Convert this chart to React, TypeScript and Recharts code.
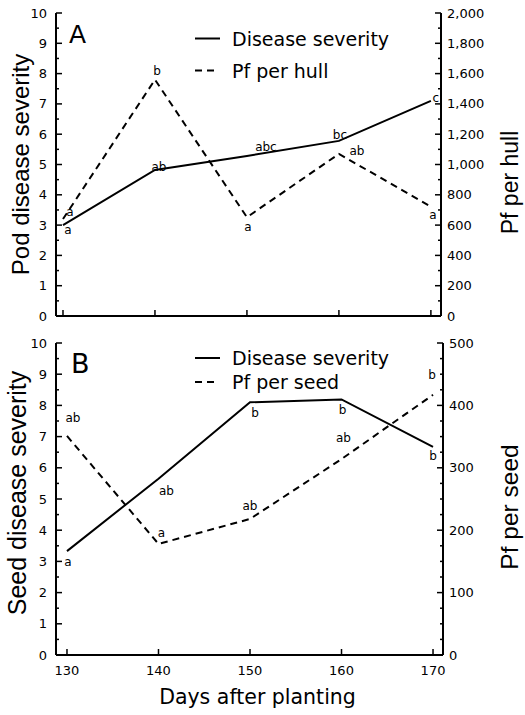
import { LineChart, Line, XAxis, YAxis, Legend, LabelList } from "recharts";

const days = [130, 140, 150, 160, 170];

// panel A
const podSeverity = [3.0, 4.82, 5.28, 5.78, 7.1];
const pfPerHull = [640, 1560, 652, 1070, 722];
const podSeverityLetters = ["a", "ab", "abc", "bc", "c"];
const pfHullLetters = ["a", "b", "a", "ab", "a"];

// panel B
const seedSeverity = [3.33, 5.65, 8.1, 8.19, 6.67];
const pfPerSeed = [351, 178, 218, 314, 417];
const seedSeverityLetters = ["a", "ab", "b", "b", "b"];
const pfSeedLetters = ["ab", "a", "ab", "ab", "b"];

const dayTicks = [130, 140, 150, 160, 170];
const severityTicks = [0, 0.5, 1, 1.5, 2, 2.5, 3, 3.5, 4, 4.5, 5, 5.5, 6, 6.5, 7, 7.5, 8, 8.5, 9, 9.5, 10];
const hullTicks = [0, 100, 200, 300, 400, 500, 600, 700, 800, 900, 1000, 1100, 1200, 1300, 1400, 1500, 1600, 1700, 1800, 1900, 2000];
const seedTicks = [0, 25, 50, 75, 100, 125, 150, 175, 200, 225, 250, 275, 300, 325, 350, 375, 400, 425, 450, 475, 500];

const topData = days.map((d, i) => ({
  day: d,
  severity: podSeverity[i],
  pf: pfPerHull[i],
  sevLetter: podSeverityLetters[i],
  pfLetter: pfHullLetters[i],
}));

const bottomData = days.map((d, i) => ({
  day: d,
  severity: seedSeverity[i],
  pf: pfPerSeed[i],
  sevLetter: seedSeverityLetters[i],
  pfLetter: pfSeedLetters[i],
}));

// where each significance letter sits relative to its point
const podSevOffsets = [[5, 5], [4, -3], [19, -9], [1, -6], [5, -3]];
const pfHullOffsets = [[7, -7], [2, -9], [1, 10], [18, -3], [2, 8]];
const seedSevOffsets = [[1, 11], [8, 12], [5, 11], [1, 11], [0, 9]];
const pfSeedOffsets = [[6, -18], [3, -11], [0, -13], [2, -21], [-1, -20]];

const FONT = "DejaVu Sans";
const TITLE_FONT = "Liberation Sans, Arial";
const DASH = "7 5";

const letterLabel = (offsets: number[][]) => (props: any) => {
  const x = props.viewBox?.x ?? props.x;
  const y = props.viewBox?.y ?? props.y;
  const [dx, dy] = offsets[props.index] ?? [0, 0];
  return (
    <text x={x + dx} y={y + dy} textAnchor="middle" dominantBaseline="central"
      fontSize={12} fontFamily={FONT} fill="#000">
      {props.value}
    </text>
  );
};

const leftTick = (p: any) => {
  const v = p.payload.value;
  const major = Number.isInteger(v);
  return (
    <g>
      <line x1={p.x} x2={p.x + (major ? 6 : 3)} y1={p.y} y2={p.y} stroke="#000" strokeWidth={1.5} />
      {major && (
        <text x={p.x - 9} y={p.y} textAnchor="end" dominantBaseline="central" fontSize={13} fontFamily={FONT} fill="#000">
          {v}
        </text>
      )}
    </g>
  );
};

const rightTick = (step: number) => (p: any) => {
  const v = p.payload.value;
  const major = v % step === 0;
  return (
    <g>
      <line x1={p.x} x2={p.x - (major ? 6 : 3)} y1={p.y} y2={p.y} stroke="#000" strokeWidth={1.5} />
      {major && (
        <text x={p.x + 6} y={p.y} textAnchor="start" dominantBaseline="central" fontSize={13} fontFamily={FONT} fill="#000">
          {v.toLocaleString("en-US")}
        </text>
      )}
    </g>
  );
};

const bottomTick = (withLabel: boolean) => (p: any) => (
  <g>
    <line x1={p.x} x2={p.x} y1={p.y} y2={p.y - 6} stroke="#000" strokeWidth={1.5} />
    {withLabel && (
      <text x={p.x} y={p.y + 15} textAnchor="middle" dominantBaseline="central" fontSize={13} fontFamily={FONT} fill="#000">
        {p.payload.value}
      </text>
    )}
  </g>
);

const sideTitle = (text: string, dx: number, dy: number, size: number) => (p: any) => {
  const vb = p.viewBox;
  const cx = vb.x + dx;
  const cy = vb.y + vb.height / 2 + dy;
  return (
    <text transform={`translate(${cx}, ${cy}) rotate(-90)`} textAnchor="middle" dominantBaseline="central"
      fontSize={size} fontFamily={TITLE_FONT} fill="#000">
      {text}
    </text>
  );
};

const legendContent = (rowY: number[]) => (props: any) => (
  <svg width={260} height={rowY[rowY.length - 1] + 16} style={{ display: "block" }}>
    {(props.payload || []).map((e: any, i: number) => {
      const dash = e.payload?.strokeDasharray;
      return (
        <g key={i}>
          <line x1={10} x2={dash ? 30 : 35} y1={rowY[i]} y2={rowY[i]} stroke="#000" strokeWidth={2} strokeDasharray={dash} />
          <text x={47} y={rowY[i]} dominantBaseline="central" fontSize={19} fontFamily={FONT} fill="#000">
            {e.value}
          </text>
        </g>
      );
    })}
  </svg>
);

const axisLine = { stroke: "#000", strokeWidth: 2 };

export default function App() {
  return (
    <div style={{ position: "absolute", left: 0, top: 0, width: 525, height: 715, overflow: "hidden", background: "#fff" }}>
      <LineChart width={525} height={335} data={topData} margin={{ top: 13, right: 0, left: 0, bottom: 0 }}>
        <XAxis dataKey="day" type="number" domain={[129.24, 171.1]} ticks={dayTicks} interval={0}
          allowDataOverflow height={19} axisLine={axisLine} tickLine={false} tickSize={0} tickMargin={0}
          tick={bottomTick(false)} />
        <XAxis xAxisId="top" orientation="top" dataKey="day" type="number" domain={[129.24, 171.1]}
          height={0} tick={false} tickLine={false} axisLine={{ stroke: "#000", strokeWidth: 1.5 }} />
        <YAxis yAxisId="left" width={56} domain={[0, 10]} ticks={severityTicks} interval={0}
          axisLine={axisLine} tickLine={false} tickSize={0} tickMargin={0} tick={leftTick}
          label={sideTitle("Pod disease severity", 20, 0, 24)} />
        <YAxis yAxisId="right" orientation="right" width={84} domain={[0, 2000]} ticks={hullTicks} interval={0}
          axisLine={axisLine} tickLine={false} tickSize={0} tickMargin={0} tick={rightTick(200)}
          label={sideTitle("Pf per hull", 69, 18, 23)} />
        <Legend verticalAlign="middle" align="center" layout="horizontal"
          wrapperStyle={{ top: 20, left: 185, width: 260 }} content={legendContent([18.5, 50.5])} />
        <Line yAxisId="left" name="Disease severity" dataKey="severity" type="linear" stroke="#000" strokeWidth={2}
          dot={false} activeDot={false} isAnimationActive={false}>
          <LabelList dataKey="sevLetter" content={letterLabel(podSevOffsets)} />
        </Line>
        <Line yAxisId="right" name="Pf per hull" dataKey="pf" type="linear" stroke="#000" strokeWidth={2}
          strokeDasharray={DASH} dot={false} activeDot={false} isAnimationActive={false}>
          <LabelList dataKey="pfLetter" content={letterLabel(pfHullOffsets)} />
        </Line>
        <text x={69} y={43} fontSize={25} fontFamily={FONT} fill="#000">A</text>
      </LineChart>

      <LineChart width={525} height={380} data={bottomData} margin={{ top: 8, right: 0, left: 0, bottom: 0 }}>
        <XAxis dataKey="day" type="number" domain={[128.8, 171.09]} ticks={dayTicks} interval={0}
          allowDataOverflow height={60} axisLine={axisLine} tickLine={false} tickSize={0} tickMargin={0}
          tick={bottomTick(true)}
          label={(p: any) => (
            <text x={p.viewBox.x + p.viewBox.width / 2 + 8} y={p.viewBox.y + 49} textAnchor="middle"
              fontSize={20.5} fontFamily={FONT} fill="#000">
              Days after planting
            </text>
          )} />
        <XAxis xAxisId="top" orientation="top" dataKey="day" type="number" domain={[128.8, 171.09]}
          height={0} tick={false} tickLine={false} axisLine={{ stroke: "#000", strokeWidth: 1.5 }} />
        <YAxis yAxisId="left" width={56} domain={[0, 10]} ticks={severityTicks} interval={0}
          axisLine={axisLine} tickLine={false} tickSize={0} tickMargin={0} tick={leftTick}
          label={sideTitle("Seed disease severity", 17, -6, 25)} />
        <YAxis yAxisId="right" orientation="right" width={82} domain={[0, 500]} ticks={seedTicks} interval={0}
          axisLine={axisLine} tickLine={false} tickSize={0} tickMargin={0} tick={rightTick(100)}
          label={sideTitle("Pf per seed", 66, 8, 24.5)} />
        <Legend verticalAlign="middle" align="center" layout="horizontal"
          wrapperStyle={{ top: 10, left: 185, width: 260 }} content={legendContent([13, 37])} />
        <Line yAxisId="left" name="Disease severity" dataKey="severity" type="linear" stroke="#000" strokeWidth={2}
          dot={false} activeDot={false} isAnimationActive={false}>
          <LabelList dataKey="sevLetter" content={letterLabel(seedSevOffsets)} />
        </Line>
        <Line yAxisId="right" name="Pf per seed" dataKey="pf" type="linear" stroke="#000" strokeWidth={2}
          strokeDasharray={DASH} dot={false} activeDot={false} isAnimationActive={false}>
          <LabelList dataKey="pfLetter" content={letterLabel(pfSeedOffsets)} />
        </Line>
        <text x={71} y={38} fontSize={27} fontFamily={FONT} fill="#000">B</text>
      </LineChart>
    </div>
  );
}
